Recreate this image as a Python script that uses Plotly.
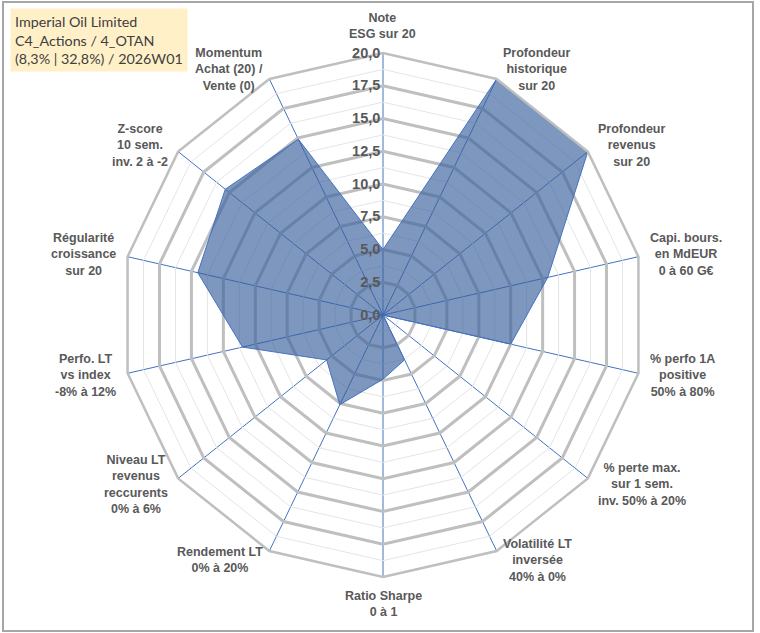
import math
import plotly.graph_objects as go

# axes of the radar, clockwise from the top
categories = [
    "Note<br>ESG sur 20",
    "Profondeur<br>historique<br>sur 20",
    "Profondeur<br>revenus<br>sur 20",
    "Capi. bours.<br>en MdEUR<br>0 à 60 G€",
    "% perfo 1A<br>positive<br>50% à 80%",
    "% perte max.<br>sur 1 sem.<br>inv. 50% à 20%",
    "Volatilité LT<br>inversée<br>40% à 0%",
    "Ratio Sharpe<br>0 à 1",
    "Rendement LT<br>0% à 20%",
    "Niveau LT<br>revenus<br>reccurents<br>0% à 6%",
    "Perfo. LT<br>vs index<br>-8% à 12%",
    "Régularité<br>croissance<br>sur 20",
    "Z-score<br>10 sem.<br>inv. 2 à -2",
    "Momentum<br>Achat (20) /<br>Vente (0)",
]
scores = [5.0, 20.0, 20.0, 12.9, 10.0, 0.0, 3.8, 4.9, 7.6, 5.5, 11.0, 14.5, 15.4, 14.9]

major_ticks = [0, 2.5, 5, 7.5, 10, 12.5, 15, 17.5, 20]
minor_rings = [1.25, 3.75, 6.25, 8.75, 11.25, 13.75, 16.25, 18.75]

title_lines = ["Imperial Oil Limited", "C4_Actions / 4_OTAN", "(8,3% | 32,8%) / 2026W01"]

W, H = 760, 633
cx, cy, R = 383, 315, 262  # centre and radius of the radar in pixels

fig = go.Figure()

# thin light rings between the major grid polygons
for r in minor_rings:
    fig.add_trace(go.Scatterpolar(
        r=[r] * (len(categories) + 1),
        theta=categories + categories[:1],
        mode="lines",
        line=dict(color="#E4E4E4", width=1),
        hoverinfo="skip",
        showlegend=False,
    ))

fig.add_trace(go.Scatterpolar(
    r=scores + scores[:1],
    theta=categories + categories[:1],
    mode="lines",
    fill="toself",
    fillcolor="rgba(55,95,155,0.65)",
    line=dict(color="#4472C4", width=1),
    showlegend=False,
))

# category labels, centred text placed just outside each vertex
annotations = []
n = len(categories)
for i, label in enumerate(categories):
    a = 2 * math.pi * i / n
    s, c = math.sin(a), math.cos(a)
    d = R + 10
    px = cx + d * s
    py = cy - d * c
    if abs(s) < 0.2:
        xanchor = "center"
        yanchor = "bottom" if c > 0 else "top"
    else:
        xanchor = "left" if s > 0 else "right"
        yanchor = "middle"
    annotations.append(dict(
        text=label, xref="paper", yref="paper",
        x=px / W, y=1 - py / H, xanchor=xanchor, yanchor=yanchor,
        align="center", showarrow=False,
        font=dict(size=12.5, family="Liberation Sans", color="#595959", weight="bold"),
    ))

annotations.append(dict(
    text="<br>".join(title_lines),
    xref="paper", yref="paper",
    x=10 / W, y=1 - 8 / H, xanchor="left", yanchor="top",
    align="left", showarrow=False,
    bgcolor="#FFF0C8",
    borderpad=4,
    font=dict(family="Lato", size=14.3, color="#404040"),
))

fig.update_layout(
    width=W,
    height=H,
    margin=dict(l=0, r=0, t=0, b=0),
    paper_bgcolor="white",
    separators=", ",
    font=dict(family="Liberation Sans", color="#595959"),
    polar=dict(
        domain=dict(x=[(cx - R) / W, (cx + R) / W], y=[1 - (cy + R) / H, 1 - (cy - R) / H]),
        bgcolor="white",
        gridshape="linear",
        angularaxis=dict(
            direction="clockwise",
            rotation=90,
            showline=True,
            linecolor="#BFBFBF",
            linewidth=2.5,
            gridcolor="#4472C4",
            gridwidth=1,
            ticks="",
            showticklabels=False,
        ),
        radialaxis=dict(
            range=[0, 20],
            tickvals=major_ticks,
            tickformat=".1f",
            ticksuffix="\u00a0\u00a0",
            angle=90,
            tickangle=90,
            side="counterclockwise",
            showline=False,
            ticks="",
            gridcolor="#BFBFBF",
            gridwidth=2.5,
            tickfont=dict(size=14.5, family="Liberation Sans", color="#595959", weight="bold"),
        ),
    ),
    shapes=[dict(
        type="rect", xref="paper", yref="paper",
        x0=3 / W, x1=753 / W, y0=1 - 631 / H, y1=1 - 2 / H,
        line=dict(color="#A6A6A6", width=2),
    )],
    annotations=annotations,
)

fig.write_html("out.html", config={"displayModeBar": False},
               post_script="document.body.style.margin='0';")
